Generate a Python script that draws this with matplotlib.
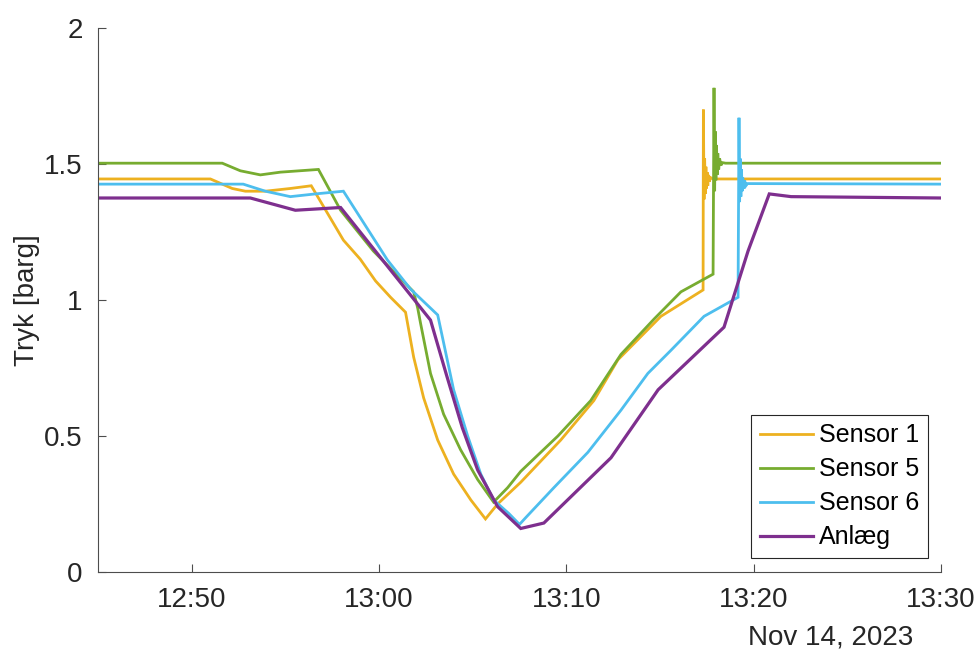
import matplotlib
matplotlib.use("Agg")
import matplotlib.pyplot as plt
import matplotlib.dates as mdates
from matplotlib.ticker import FuncFormatter
import pandas as pd

plt.rcParams['font.family'] = ['Liberation Sans', 'DejaVu Sans']

DAY = "2023-11-14 "

# ---------------- data ----------------
sensor1_time = ["12:45:00", "12:51:00", "12:52:10", "12:52:52", "12:53:56", "12:55:16",
                "12:56:23", "12:58:06", "12:59:00", "12:59:49", "13:00:37", "13:01:25",
                "13:01:51", "13:02:23", "13:03:08", "13:03:59", "13:04:54", "13:05:41",
                "13:06:20", "13:07:34", "13:09:42", "13:11:28", "13:12:45", "13:15:03",
                "13:17:18", "13:17:19", "13:17:21", "13:17:23", "13:17:25", "13:17:27",
                "13:17:29", "13:17:31", "13:17:33", "13:17:35", "13:17:38", "13:17:42",
                "13:17:50", "13:30:00"]
sensor1_value = [1.445, 1.445, 1.41, 1.40, 1.40, 1.41,
                 1.42, 1.22, 1.15, 1.07, 1.01, 0.955,
                 0.79, 0.64, 0.485, 0.36, 0.265, 0.195,
                 0.25, 0.33, 0.485, 0.63, 0.78, 0.94,
                 1.037, 1.70, 1.37, 1.52, 1.39, 1.49,
                 1.41, 1.47, 1.42, 1.46, 1.435, 1.45,
                 1.445, 1.445]

sensor5_time = ["12:45:00", "12:51:38", "12:52:36", "12:53:40", "12:54:44", "12:56:46",
                "12:57:57", "12:59:42", "13:01:51", "13:02:04", "13:02:13", "13:02:45",
                "13:03:27", "13:04:21", "13:05:16", "13:06:07", "13:06:52", "13:07:34",
                "13:09:33", "13:11:18", "13:12:55", "13:14:41", "13:16:07", "13:17:50",
                "13:17:53", "13:17:55", "13:17:57", "13:17:59", "13:18:01", "13:18:03",
                "13:18:05", "13:18:08", "13:18:11", "13:18:15", "13:18:20", "13:18:30",
                "13:30:00"]
sensor5_value = [1.503, 1.503, 1.475, 1.46, 1.47, 1.48,
                 1.33, 1.18, 1.03, 0.97, 0.915, 0.73,
                 0.58, 0.45, 0.34, 0.257, 0.31, 0.37,
                 0.50, 0.63, 0.80, 0.93, 1.03, 1.095,
                 1.78, 1.40, 1.62, 1.44, 1.57, 1.46,
                 1.54, 1.48, 1.52, 1.495, 1.505, 1.503,
                 1.503]

sensor6_time = ["12:45:00", "12:52:45", "12:53:56", "12:55:16", "12:56:36", "12:58:06",
                "13:00:27", "13:01:41", "13:03:08", "13:03:59", "13:04:44", "13:05:26",
                "13:06:07", "13:06:56", "13:07:30", "13:07:50", "13:09:20", "13:11:09",
                "13:12:55", "13:14:21", "13:15:35", "13:17:21", "13:19:10", "13:19:13",
                "13:19:15", "13:19:17", "13:19:19", "13:19:21", "13:19:23", "13:19:25",
                "13:19:28", "13:19:31", "13:19:35", "13:19:40", "13:30:00"]
sensor6_value = [1.426, 1.426, 1.40, 1.38, 1.39, 1.40,
                 1.147, 1.04, 0.945, 0.67, 0.50, 0.36,
                 0.265, 0.215, 0.175, 0.20, 0.31, 0.44,
                 0.595, 0.73, 0.815, 0.94, 1.01, 1.67,
                 1.36, 1.52, 1.38, 1.48, 1.40, 1.45,
                 1.41, 1.44, 1.42, 1.428, 1.426]

anlaeg_time = ["12:45:00", "12:53:08", "12:55:32", "12:57:57", "13:02:45", "13:03:36",
               "13:04:27", "13:05:16", "13:06:20", "13:07:34", "13:08:48", "13:12:23",
               "13:14:54", "13:18:25", "13:19:42", "13:20:50", "13:22:00", "13:30:00"]
anlaeg_value = [1.375, 1.375, 1.33, 1.34, 0.926, 0.725,
                0.53, 0.375, 0.24, 0.16, 0.18, 0.42,
                0.67, 0.90, 1.18, 1.39, 1.38, 1.375]

series_labels = ["Sensor 1", "Sensor 5", "Sensor 6", "Anlæg"]
y_ticks = [0, 0.5, 1, 1.5, 2]
x_ticks = ["12:50", "13:00", "13:10", "13:20", "13:30"]
x_limits = ["12:45:00", "13:30:00"]
date_label = "Nov 14, 2023"
y_label = "Tryk [barg]"

colors = ["#EDB120", "#77AC30", "#4DBEEE", "#7E2F8E"]


def to_dt(lst):
    return pd.to_datetime([DAY + s for s in lst])


# ---------------- figure ----------------
fig = plt.figure(figsize=(9.79, 6.53), dpi=100)
ax = fig.add_axes([98 / 979, 81 / 653, (941 - 98) / 979, (572 - 28) / 653])

series = [(sensor1_time, sensor1_value), (sensor5_time, sensor5_value),
          (sensor6_time, sensor6_value), (anlaeg_time, anlaeg_value)]
widths = [2.0, 2.0, 2.0, 2.3]
for (t, v), c, lab, lw in zip(series, colors, series_labels, widths):
    ax.plot(to_dt(t), v, color=c, lw=lw, label=lab, solid_joinstyle='miter')

ax.set_xlim(to_dt(x_limits))
ax.set_ylim(y_ticks[0], y_ticks[-1])
ax.set_yticks(y_ticks)
ax.yaxis.set_major_formatter(FuncFormatter(lambda v, p: f"{v:g}"))
ax.set_xticks(to_dt([s + ":00" for s in x_ticks]))
ax.xaxis.set_major_formatter(mdates.DateFormatter("%H:%M"))

axis_col = "#262626"
for side in ["top", "right"]:
    ax.spines[side].set_visible(False)
for side in ["left", "bottom"]:
    ax.spines[side].set_color("#4d4d4d")
    ax.spines[side].set_linewidth(0.8)
ax.tick_params(direction="in", length=6, width=0.8, color="#4d4d4d",
               labelsize=20, labelcolor=axis_col)
ax.tick_params(axis="x", pad=11)
ax.tick_params(axis="y", pad=11)

ax.set_ylabel(y_label, fontsize=20, color=axis_col, labelpad=3)

fig.text(831 / 979, 1 - 637 / 653, date_label, fontsize=20, color=axis_col,
         ha="center", va="center")

leg = ax.legend(loc="lower right", bbox_to_anchor=(928 / 979, 95 / 653),
                bbox_transform=fig.transFigure, borderaxespad=0,
                fontsize=18, handlelength=2.1, handletextpad=0.25,
                labelspacing=0.4, borderpad=0.35, fancybox=False,
                framealpha=1, edgecolor=axis_col)
leg.get_frame().set_linewidth(0.8)
for txt in leg.get_texts():
    txt.set_color("black")

fig.savefig("out.png", dpi=100)
